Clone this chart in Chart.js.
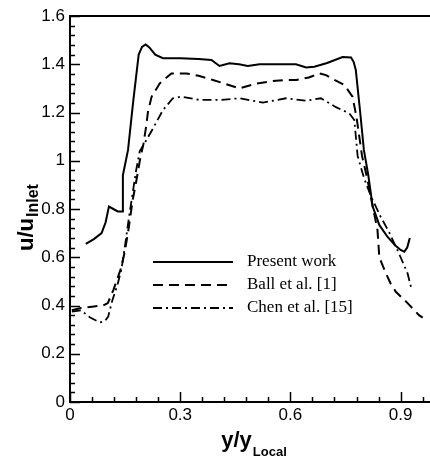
<!DOCTYPE html>
<html><head><meta charset="utf-8">
<script src="https://cdn.jsdelivr.net/npm/chart.js@4.4.1/dist/chart.umd.min.js"></script>
<style>html,body{margin:0;padding:0;background:#fff}</style>
</head><body>
<canvas id="c" width="430" height="460"></canvas>
<script>
const xTickValues = [0, 0.3, 0.6, 0.9];
const xTickLabels = ['0', '0.3', '0.6', '0.9'];
const yTickValues = [0, 0.2, 0.4, 0.6, 0.8, 1, 1.2, 1.4, 1.6];
const yTickLabels = ['0', '0.2', '0.4', '0.6', '0.8', '1', '1.2', '1.4', '1.6'];
const seriesNames = ['Present work', 'Ball et al. [1]', 'Chen et al. [15]'];

const presentX = [0.043, 0.065, 0.086, 0.097, 0.106, 0.118, 0.130, 0.142, 0.144, 0.158, 0.172, 0.187, 0.196, 0.206, 0.216, 0.232, 0.253, 0.300, 0.350, 0.385, 0.407, 0.434, 0.460, 0.484, 0.516, 0.560, 0.615, 0.643, 0.665, 0.700, 0.742, 0.765, 0.772, 0.778, 0.790, 0.800, 0.812, 0.824, 0.842, 0.864, 0.885, 0.900, 0.910, 0.918, 0.925];
const presentY = [0.655, 0.675, 0.700, 0.745, 0.810, 0.800, 0.790, 0.790, 0.940, 1.045, 1.245, 1.440, 1.472, 1.482, 1.470, 1.440, 1.425, 1.425, 1.422, 1.418, 1.393, 1.404, 1.400, 1.393, 1.400, 1.400, 1.400, 1.387, 1.390, 1.405, 1.430, 1.428, 1.410, 1.376, 1.200, 1.045, 0.940, 0.810, 0.734, 0.685, 0.650, 0.630, 0.623, 0.640, 0.680];

const ballX = [0.005, 0.030, 0.060, 0.090, 0.103, 0.118, 0.131, 0.140, 0.150, 0.159, 0.171, 0.181, 0.190, 0.200, 0.208, 0.212, 0.222, 0.244, 0.276, 0.317, 0.350, 0.389, 0.430, 0.462, 0.507, 0.550, 0.588, 0.616, 0.650, 0.679, 0.697, 0.720, 0.747, 0.769, 0.780, 0.795, 0.810, 0.824, 0.837, 0.842, 0.858, 0.873, 0.887, 0.919, 0.950, 0.960];
const ballY = [0.380, 0.390, 0.395, 0.400, 0.410, 0.464, 0.520, 0.560, 0.630, 0.713, 0.840, 0.920, 1.000, 1.070, 1.150, 1.200, 1.265, 1.320, 1.362, 1.362, 1.352, 1.335, 1.315, 1.300, 1.320, 1.330, 1.335, 1.335, 1.345, 1.362, 1.355, 1.335, 1.314, 1.266, 1.180, 1.020, 0.920, 0.810, 0.713, 0.600, 0.540, 0.490, 0.457, 0.410, 0.360, 0.350];

const chenX = [0.005, 0.030, 0.055, 0.081, 0.095, 0.104, 0.115, 0.130, 0.140, 0.150, 0.160, 0.170, 0.180, 0.190, 0.208, 0.226, 0.253, 0.280, 0.303, 0.353, 0.407, 0.462, 0.525, 0.588, 0.643, 0.683, 0.724, 0.760, 0.774, 0.783, 0.800, 0.820, 0.845, 0.870, 0.900, 0.919, 0.929];
const chenY = [0.375, 0.380, 0.350, 0.330, 0.335, 0.354, 0.420, 0.490, 0.550, 0.650, 0.760, 0.860, 0.960, 1.040, 1.086, 1.134, 1.210, 1.259, 1.266, 1.252, 1.252, 1.259, 1.241, 1.259, 1.249, 1.259, 1.222, 1.197, 1.169, 1.020, 0.930, 0.850, 0.770, 0.700, 0.600, 0.533, 0.472];

const toPts = (xs, ys) => xs.map((x, i) => ({ x: x, y: ys[i] }));

const AXIS_FONT = '"Liberation Sans", Arial, sans-serif';
const LEG_FONT = '"Liberation Serif", "Times New Roman", serif';

const frame = {
  id: 'frame',
  afterDraw(chart) {
    const ctx = chart.ctx, a = chart.chartArea;
    const xs = chart.scales.x, ys = chart.scales.y;
    ctx.save();
    ctx.strokeStyle = '#000';
    ctx.lineWidth = 2;
    ctx.beginPath();
    ctx.moveTo(a.left - 1, a.top); ctx.lineTo(a.right, a.top);
    ctx.stroke();
    // inward ticks
    ctx.lineWidth = 1.5;
    const ymajor = 0.2, yminor = 0.04, xmajor = 0.3, xminor = 0.06;
    for (let k = 0; k <= Math.round(ys.max / yminor); k++) {
      const v = k * yminor;
      const p = Math.round(ys.getPixelForValue(v)) + 0.5;
      const isMajor = Math.abs(v / ymajor - Math.round(v / ymajor)) < 1e-6;
      const len = isMajor ? 10 : 5;
      ctx.beginPath(); ctx.moveTo(a.left, p); ctx.lineTo(a.left + len, p); ctx.stroke();
    }
    for (let k = 0; k <= Math.floor(xs.max / xminor + 1e-6); k++) {
      const v = k * xminor;
      const p = Math.round(xs.getPixelForValue(v)) + 0.5;
      const isMajor = Math.abs(v / xmajor - Math.round(v / xmajor)) < 1e-6;
      const len = isMajor ? 10 : 5;
      ctx.beginPath(); ctx.moveTo(p, a.bottom); ctx.lineTo(p, a.bottom - len); ctx.stroke();
    }
    // legend
    const rows = [246, 269, 292];
    chart.data.datasets.forEach((ds, i) => {
      const y = a.top + rows[i];
      ctx.save();
      ctx.lineWidth = ds.borderWidth;
      ctx.setLineDash(ds.borderDash || []);
      ctx.beginPath(); ctx.moveTo(a.left + 83, y); ctx.lineTo(a.left + 163, y); ctx.stroke();
      ctx.restore();
      ctx.fillStyle = '#000';
      ctx.font = '17px ' + LEG_FONT;
      ctx.textBaseline = 'middle';
      ctx.textAlign = 'left';
      ctx.fillText(ds.label, a.left + 177, y);
    });
    // axis titles
    ctx.fillStyle = '#000';
    ctx.textBaseline = 'alphabetic';
    ctx.textAlign = 'left';
    ctx.font = 'bold 22px ' + AXIS_FONT;
    const xt = 'y/y', xs2 = 'Local';
    const w1 = ctx.measureText(xt).width;
    ctx.font = 'bold 13px ' + AXIS_FONT;
    const w2 = ctx.measureText(xs2).width;
    const x0 = 254 - (w1 + w2 + 1) / 2;
    ctx.font = 'bold 22px ' + AXIS_FONT;
    ctx.fillText(xt, x0, 447);
    ctx.font = 'bold 13px ' + AXIS_FONT;
    ctx.fillText(xs2, x0 + w1 + 1, 456);
    ctx.save();
    ctx.translate(33, 251);
    ctx.rotate(-Math.PI / 2);
    ctx.font = 'bold 22px ' + AXIS_FONT;
    const yw = ctx.measureText('u/u').width;
    ctx.fillText('u/u', 0, 0);
    ctx.font = 'bold 16px ' + AXIS_FONT;
    ctx.fillText('Inlet', yw + 1, 5);
    ctx.restore();
    ctx.restore();
  }
};

new Chart(document.getElementById('c'), {
  type: 'scatter',
  data: {
    datasets: [
      { label: seriesNames[0], data: toPts(presentX, presentY), borderColor: '#000', borderWidth: 2, borderDash: [], showLine: true, pointRadius: 0, tension: 0 },
      { label: seriesNames[1], data: toPts(ballX, ballY), borderColor: '#000', borderWidth: 2, borderDash: [10, 6], showLine: true, pointRadius: 0, tension: 0 },
      { label: seriesNames[2], data: toPts(chenX, chenY), borderColor: '#000', borderWidth: 1.8, borderDash: [9, 4, 2, 4], showLine: true, pointRadius: 0, tension: 0 }
    ]
  },
  options: {
    responsive: false,
    animation: false,
    devicePixelRatio: 1,
    layout: { padding: { top: 16, right: 0, left: 0, bottom: 0 } },
    plugins: { legend: { display: false }, tooltip: { enabled: false } },
    scales: {
      x: {
        type: 'linear', min: 0, max: 0.98,
        afterBuildTicks: s => { s.ticks = xTickValues.map(v => ({ value: v })); },
        afterFit: s => { s.height = 58; },
        grid: { display: false, drawTicks: false },
        border: { display: true, color: '#000', width: 2 },
        ticks: { color: '#000', font: { family: AXIS_FONT, size: 17 }, padding: 3, maxRotation: 0, autoSkip: false,
          callback: (v, i) => xTickLabels[i] }
      },
      y: {
        type: 'linear', min: 0, max: 1.6,
        afterBuildTicks: s => { s.ticks = yTickValues.map(v => ({ value: v })); },
        afterFit: s => { s.width = 70; },
        grid: { display: false, drawTicks: false },
        border: { display: true, color: '#000', width: 2 },
        ticks: { color: '#000', font: { family: AXIS_FONT, size: 17 }, padding: 5, autoSkip: false,
          callback: (v, i) => yTickLabels[i] }
      }
    }
  },
  plugins: [frame]
});
</script>
</body></html>
